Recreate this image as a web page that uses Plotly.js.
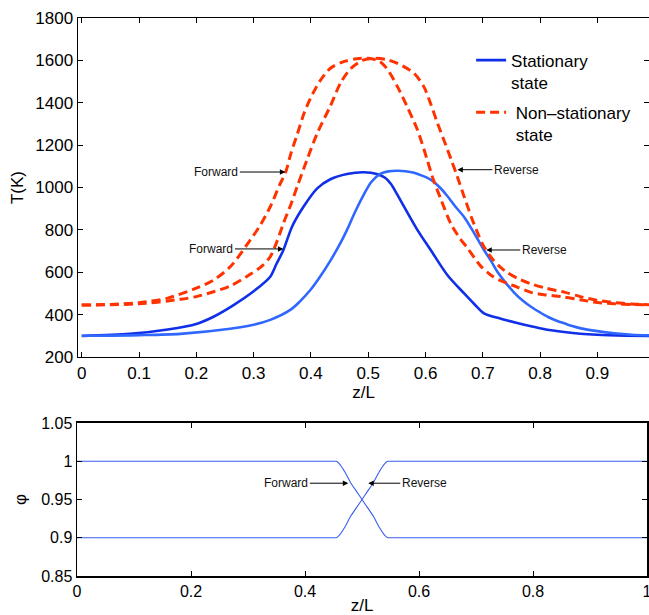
<!DOCTYPE html>
<html><head><meta charset="utf-8">
<script src="https://cdn.plot.ly/plotly-3.0.1.min.js"></script>
<style>html,body{margin:0;padding:0;background:#fff;} #plot{width:649px;height:615px;}</style>
</head><body><div id="plot"></div>
<script>
// ---- Top panel: temperature profiles T(K) vs z/L ----
const zStatFwd = [0, 0.084, 0.15, 0.2, 0.23, 0.265, 0.3, 0.329, 0.34, 0.352, 0.367, 0.387, 0.411, 0.434, 0.463, 0.492, 0.515, 0.53, 0.54, 0.55, 0.562, 0.586, 0.609, 0.638, 0.667, 0.685, 0.702, 0.726, 0.743, 0.76, 0.784, 0.81, 0.842, 0.87, 0.9, 0.95, 0.99];
const tStatFwd = [299, 309, 330, 356, 390, 445, 510, 579, 640, 705, 815, 909, 996, 1039, 1064, 1072, 1064, 1045, 1015, 970, 912, 799, 705, 587, 501, 450, 406, 385, 372, 360, 345, 330, 318, 310, 305, 301, 299];

const zStatRev = [0, 0.1, 0.172, 0.259, 0.3, 0.329, 0.364, 0.38, 0.399, 0.415, 0.434, 0.45, 0.463, 0.478, 0.492, 0.505, 0.521, 0.535, 0.551, 0.565, 0.58, 0.595, 0.609, 0.625, 0.638, 0.652, 0.667, 0.685, 0.702, 0.715, 0.726, 0.74, 0.755, 0.77, 0.784, 0.8, 0.813, 0.83, 0.842, 0.856, 0.871, 0.9, 0.929, 0.96, 0.99];
const tStatRev = [300, 303, 309, 333, 352, 375, 422, 460, 516, 575, 655, 730, 800, 890, 965, 1025, 1064, 1076, 1079, 1077, 1070, 1055, 1037, 1000, 960, 910, 862, 784, 705, 650, 600, 550, 503, 465, 437, 410, 390, 370, 359, 346, 335, 322, 312, 305, 302];

const zNonFwd = [0, 0.05, 0.1, 0.15, 0.2, 0.23, 0.26, 0.294, 0.31, 0.329, 0.345, 0.356, 0.365, 0.376, 0.388, 0.399, 0.415, 0.434, 0.457, 0.48, 0.5, 0.52, 0.533, 0.551, 0.568, 0.586, 0.603, 0.612, 0.626, 0.644, 0.66, 0.673, 0.696, 0.715, 0.731, 0.76, 0.784, 0.81, 0.842, 0.87, 0.9, 0.93, 0.96, 0.99];
const tNonFwd = [445, 448, 456, 478, 525, 563, 628, 752, 815, 909, 1010, 1073, 1160, 1250, 1350, 1420, 1500, 1563, 1594, 1608, 1610, 1595, 1560, 1476, 1381, 1271, 1130, 1050, 950, 830, 760, 715, 630, 585, 560, 530, 505, 493, 483, 470, 457, 451, 448, 446];

const zNonRev = [0, 0.1, 0.172, 0.2, 0.23, 0.259, 0.294, 0.315, 0.329, 0.34, 0.352, 0.365, 0.376, 0.393, 0.411, 0.434, 0.452, 0.469, 0.49, 0.51, 0.53, 0.551, 0.58, 0.597, 0.609, 0.62, 0.632, 0.645, 0.655, 0.667, 0.68, 0.691, 0.7, 0.714, 0.73, 0.743, 0.76, 0.784, 0.81, 0.842, 0.87, 0.9, 0.93, 0.96, 0.99];
const tNonRev = [445, 451, 472, 485, 508, 535, 590, 630, 673, 740, 831, 920, 1004, 1130, 1256, 1385, 1495, 1560, 1600, 1610, 1605, 1586, 1539, 1476, 1395, 1310, 1224, 1130, 1055, 960, 860, 785, 730, 672, 625, 598, 572, 545, 525, 506, 485, 467, 457, 450, 447];

// ---- Bottom panel: phi vs z/L ----
const zPhi = [0, 0.45, 0.455, 0.46, 0.47, 0.48, 0.49, 0.5, 0.51, 0.52, 0.53, 0.54, 0.545, 0.55, 1.0];
const phiFwd = [1, 1, 1, 0.997, 0.986, 0.972, 0.961, 0.95, 0.939, 0.928, 0.914, 0.903, 0.9, 0.9, 0.9];
const phiRev = [0.9, 0.9, 0.9, 0.903, 0.914, 0.928, 0.939, 0.95, 0.961, 0.972, 0.986, 0.997, 1, 1, 1];

// ---- Tick labels ----
const topXTicks = [0, 0.1, 0.2, 0.3, 0.4, 0.5, 0.6, 0.7, 0.8, 0.9];
const topXLabels = ['0', '0.1', '0.2', '0.3', '0.4', '0.5', '0.6', '0.7', '0.8', '0.9'];
const topYTicks = [200, 400, 600, 800, 1000, 1200, 1400, 1600, 1800];
const topYLabels = ['200', '400', '600', '800', '1000', '1200', '1400', '1600', '1800'];
const botXTicks = [0, 0.2, 0.4, 0.6, 0.8, 1];
const botXLabels = ['0', '0.2', '0.4', '0.6', '0.8', '1'];
const botYTicks = [0.85, 0.9, 0.95, 1, 1.05];
const botYLabels = ['0.85', '0.9', '0.95', '1', '1.05'];

const legendNames = ['Stationary<br>state', ' Non\u2013stationary<br> state'];

const darkBlue = '#0f2fe8';
const lightBlue = '#3068ff';
const red = '#ff3300';
const phiBlue = '#3a5cf0';

const traces = [
  {x: zStatFwd, y: tStatFwd, xaxis: 'x', yaxis: 'y', mode: 'lines', name: legendNames[0], legendgroup: 'a',
   line: {color: darkBlue, width: 2.6, shape: 'spline', smoothing: 0.8}, showlegend: true},
  {x: zStatRev, y: tStatRev, xaxis: 'x', yaxis: 'y', mode: 'lines', name: 'rev', legendgroup: 'a',
   line: {color: lightBlue, width: 2.6, shape: 'spline', smoothing: 0.8}, showlegend: false},
  {x: zNonFwd, y: tNonFwd, xaxis: 'x', yaxis: 'y', mode: 'lines', name: legendNames[1], legendgroup: 'b',
   line: {color: red, width: 3, dash: '9px,5px', shape: 'spline', smoothing: 0.8}, showlegend: true},
  {x: zNonRev, y: tNonRev, xaxis: 'x', yaxis: 'y', mode: 'lines', name: 'nrev', legendgroup: 'b',
   line: {color: red, width: 3, dash: '9px,5px', shape: 'spline', smoothing: 0.8}, showlegend: false},
  {x: zPhi, y: phiFwd, xaxis: 'x2', yaxis: 'y2', mode: 'lines', showlegend: false,
   line: {color: phiBlue, width: 1.1, shape: 'spline', smoothing: 0.5}},
  {x: zPhi, y: phiRev, xaxis: 'x2', yaxis: 'y2', mode: 'lines', showlegend: false,
   line: {color: phiBlue, width: 1.1, shape: 'spline', smoothing: 0.5}}
];

const fontFam = 'Liberation Sans, Arial, Helvetica, sans-serif';
const axBase = {
  showline: true, linecolor: '#000', linewidth: 1.5, mirror: 'ticks',
  ticks: 'inside', ticklen: 5, tickwidth: 1, tickcolor: '#000',
  showgrid: false, zeroline: false, tickmode: 'array', automargin: false,
  ticklabeloverflow: 'allow'
};

function ann(x, y, xref, yref, text, ax) {
  return {x: x, y: y, xref: xref, yref: yref, text: text, showarrow: true,
    arrowhead: 2, arrowsize: 1.1, arrowwidth: 1, arrowcolor: '#000',
    ax: ax, ay: 0, font: {size: 12, color: '#111', family: fontFam}};
}

const layout = {
  width: 649, height: 615,
  margin: {l: 77, r: 0, t: 18, b: 39},
  paper_bgcolor: '#fff', plot_bgcolor: '#fff',
  font: {family: fontFam, color: '#000'},
  showlegend: true,
  legend: {x: 0.689, y: 0.956, xanchor: 'left', yanchor: 'top', bgcolor: 'rgba(0,0,0,0)',
    borderwidth: 0, font: {size: 17, family: fontFam}, valign: 'top', tracegroupgap: 5, itemwidth: 30},
  xaxis: Object.assign({}, axBase, {domain: [1/572, 1], range: [-0.0065, 0.99], anchor: 'y',
    tickvals: topXTicks, ticktext: topXLabels, tickfont: {size: 17},
    title: {text: 'z/L', font: {size: 17}, standoff: 2}}),
  yaxis: Object.assign({}, axBase, {domain: [0.3925, 1], range: [200, 1800], anchor: 'x',
    tickvals: topYTicks, ticktext: topYLabels, tickfont: {size: 17},
    title: {text: 'T(K)', font: {size: 17}, standoff: 7}}),
  xaxis2: Object.assign({}, axBase, {domain: [0, 570/572], range: [0, 1], anchor: 'y2',
    tickvals: botXTicks, ticktext: botXLabels, tickfont: {size: 16},
    title: {text: 'z/L', font: {size: 17}, standoff: 4}}),
  yaxis2: Object.assign({}, axBase, {domain: [0, 0.2742], range: [0.85, 1.05], anchor: 'x2',
    tickvals: botYTicks, ticktext: botYLabels, tickfont: {size: 16},
    title: {text: '\u03c6', font: {size: 17}, standoff: 10}}),
  annotations: [
    ann(0.3554, 1073, 'x', 'y', 'Forward', -69),
    ann(0.352, 710, 'x', 'y', 'Forward', -72),
    ann(0.6556, 1084, 'x', 'y', 'Reverse', 59),
    ann(0.706, 705, 'x', 'y', 'Reverse', 58),
    ann(0.476, 0.9713, 'x2', 'y2', 'Forward', -62),
    ann(0.511, 0.9713, 'x2', 'y2', 'Reverse', 56)
  ]
};

Plotly.newPlot('plot', traces, layout, {displayModeBar: false, staticPlot: true});
</script></body></html>
